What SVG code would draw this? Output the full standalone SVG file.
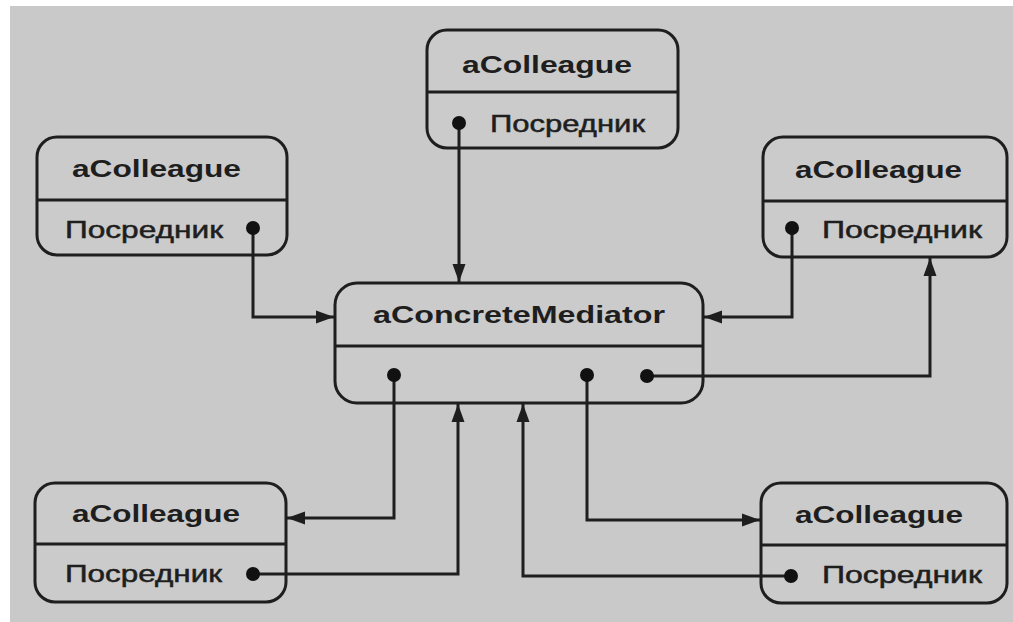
<svg xmlns="http://www.w3.org/2000/svg" width="1013" height="622" viewBox="0 0 1013 622">
<style>
.box{fill:#cbcbcb;stroke:#1e1e1e;stroke-width:3}
.div{stroke:#1e1e1e;stroke-width:3}
.title{font-family:"Liberation Sans",Arial,sans-serif;font-weight:bold;font-size:24px;fill:#1e1e1e}
.attr{font-family:"Liberation Sans",Arial,sans-serif;font-size:24px;fill:#1e1e1e;stroke:#1e1e1e;stroke-width:0.5}
.dot{fill:#111}
.conn{fill:none;stroke:#1e1e1e;stroke-width:3;marker-end:url(#arr)}
</style>
<defs>
<marker id="arr" markerUnits="userSpaceOnUse" markerWidth="20" markerHeight="16" refX="18" refY="8" orient="auto">
<path d="M0,1.5 L18,8 L0,14.5 Z" fill="#1e1e1e"/>
</marker>
</defs>
<rect x="0" y="0" width="1013" height="622" fill="#ffffff"/>
<rect x="10" y="6" width="1003" height="616" fill="#c9c9c9"/>

<g id="colleague-top">
<rect class="box" x="427" y="30" width="251" height="118" rx="20"/>
<line class="div" x1="427" y1="92" x2="678" y2="92"/>
<text class="title" x="462" y="73" textLength="170" lengthAdjust="spacingAndGlyphs">aColleague</text>
<text class="attr" x="490" y="132" textLength="155" lengthAdjust="spacingAndGlyphs">Посредник</text>
</g>

<g id="colleague-left">
<rect class="box" x="37" y="137" width="250" height="118" rx="20"/>
<line class="div" x1="37" y1="200" x2="287" y2="200"/>
<text class="title" x="72" y="177" textLength="169" lengthAdjust="spacingAndGlyphs">aColleague</text>
<text class="attr" x="65" y="238" textLength="158" lengthAdjust="spacingAndGlyphs">Посредник</text>
</g>

<g id="colleague-right">
<rect class="box" x="763" y="137" width="244" height="120" rx="20"/>
<line class="div" x1="763" y1="201" x2="1007" y2="201"/>
<text class="title" x="795" y="178" textLength="167" lengthAdjust="spacingAndGlyphs">aColleague</text>
<text class="attr" x="822" y="238" textLength="160" lengthAdjust="spacingAndGlyphs">Посредник</text>
</g>

<g id="mediator">
<rect class="box" x="335" y="283" width="368" height="120" rx="22"/>
<line class="div" x1="335" y1="346" x2="703" y2="346"/>
<text class="title" x="373" y="323" textLength="292" lengthAdjust="spacingAndGlyphs">aConcreteMediator</text>
</g>

<g id="colleague-bottom-left">
<rect class="box" x="35" y="483" width="251" height="119" rx="20"/>
<line class="div" x1="35" y1="544" x2="286" y2="544"/>
<text class="title" x="72" y="522" textLength="168" lengthAdjust="spacingAndGlyphs">aColleague</text>
<text class="attr" x="65" y="582" textLength="157" lengthAdjust="spacingAndGlyphs">Посредник</text>
</g>

<g id="colleague-bottom-right">
<rect class="box" x="761" y="483" width="246" height="120" rx="20"/>
<line class="div" x1="761" y1="545" x2="1007" y2="545"/>
<text class="title" x="795" y="523" textLength="168" lengthAdjust="spacingAndGlyphs">aColleague</text>
<text class="attr" x="822" y="583" textLength="160" lengthAdjust="spacingAndGlyphs">Посредник</text>
</g>

<g id="connectors">
<path class="conn" d="M459,123 V282"/>
<path class="conn" d="M253,228 V317 H334"/>
<path class="conn" d="M792,228 V317 H704"/>
<path class="conn" d="M394,375 V518 H287"/>
<path class="conn" d="M253,574 H458 V404"/>
<path class="conn" d="M587,375 V520 H760"/>
<path class="conn" d="M791,576 H523 V404"/>
<path class="conn" d="M647,376 H930 V258"/>
<circle class="dot" cx="459" cy="123" r="7"/>
<circle class="dot" cx="253" cy="228" r="7"/>
<circle class="dot" cx="792" cy="228" r="7"/>
<circle class="dot" cx="394" cy="375" r="7"/>
<circle class="dot" cx="587" cy="375" r="7"/>
<circle class="dot" cx="647" cy="376" r="7"/>
<circle class="dot" cx="253" cy="574" r="7"/>
<circle class="dot" cx="791" cy="576" r="7"/>
</g>
</svg>
